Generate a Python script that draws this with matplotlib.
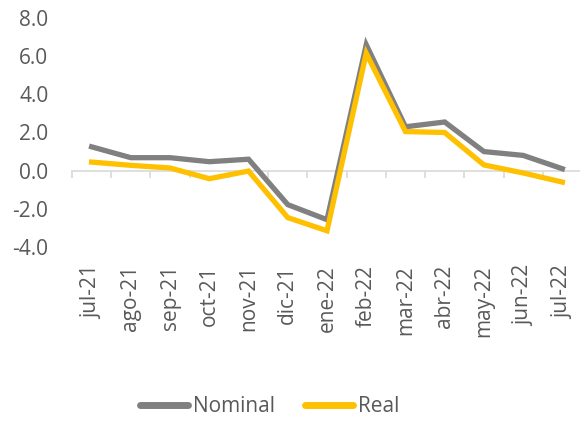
import matplotlib
matplotlib.use("Agg")
import matplotlib.pyplot as plt
import numpy as np

# monthly series, %
months = ["jul-21", "ago-21", "sep-21", "oct-21", "nov-21", "dic-21", "ene-22",
          "feb-22", "mar-22", "abr-22", "may-22", "jun-22", "jul-22"]
nominal = [1.25, 0.68, 0.68, 0.47, 0.6, -1.78, -2.57, 6.6, 2.3, 2.55, 1.0, 0.8, 0.1]
real = [0.45, 0.28, 0.14, -0.42, -0.02, -2.46, -3.15, 6.15, 2.05, 2.0, 0.3, -0.12, -0.6]

plt.rcParams['font.family'] = ['Open Sans', 'DejaVu Sans']
txt = "#595959"

fig = plt.figure(figsize=(5.8, 4.21), dpi=100)
ax = fig.add_axes([72/580, 1 - 247/421, (582 - 72)/580, (247 - 18)/421])

x = np.arange(len(months))
ax.plot(x, nominal, color="#808080", lw=3.8, label="Nominal", solid_joinstyle="miter")
ax.plot(x, real, color="#FFC000", lw=3.8, label="Real", solid_joinstyle="miter")

ax.set_xlim(-0.5, len(months) - 0.5)
ax.set_ylim(-4, 8)
ax.set_yticks(np.arange(-4, 8.1, 2))
ax.set_yticklabels([f"{v:.1f}" for v in np.arange(-4, 8.1, 2)])
ax.set_xticks(x)
ax.set_xticklabels(months, rotation=90)
ax.tick_params(axis="both", length=0, labelsize=15, colors=txt)
ax.tick_params(axis="y", pad=17)
ax.tick_params(axis="x", pad=13)
for s in ax.spines.values():
    s.set_visible(False)

# zero axis line with category boundary ticks
sec = ax.secondary_xaxis(1/3)
sec.spines['bottom'].set_color("#D9D9D9")
sec.spines['bottom'].set_linewidth(1.2)
sec.set_xticks(np.arange(-0.5, len(months), 1))
sec.set_xticklabels([])
sec.tick_params(length=5, width=1.2, color="#D9D9D9")

leg = fig.legend(loc="center", bbox_to_anchor=(0.465, 1 - 407/421), ncol=2, frameon=False,
                 fontsize=15, handlelength=2.3, columnspacing=1.4, handletextpad=0.25)
for t in leg.get_texts():
    t.set_color(txt)
for h in leg.get_lines():
    h.set_linewidth(5)
    h.set_solid_capstyle("round")

fig.savefig("out.png", dpi=100)
